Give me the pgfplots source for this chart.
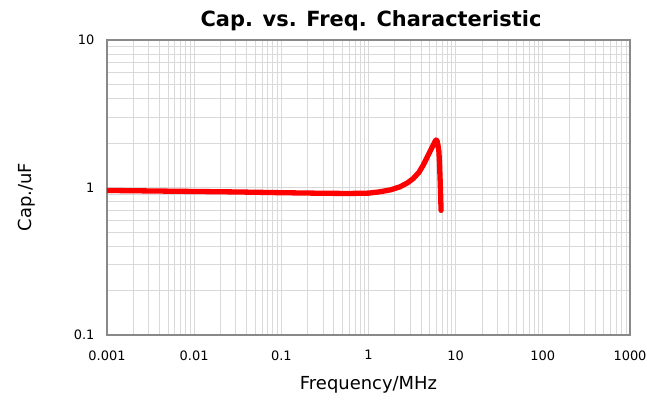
\documentclass[border=0pt]{standalone}
\usepackage{fontspec}
\setmainfont{DejaVu Sans}
\usepackage{pgfplots}
\pgfplotsset{compat=1.18}
\definecolor{framegray}{HTML}{898989}
\definecolor{gridgray}{HTML}{D9D9D9}
\begin{document}
\begin{tikzpicture}[x=1bp,y=1bp]
\useasboundingbox (-107,-70) rectangle (540,335);
\begin{axis}[
  at={(0,0)}, anchor=south west,
  scale only axis, width=523bp, height=295bp,
  xmode=log, ymode=log,
  xmin=0.001, xmax=1000, ymin=0.1, ymax=10,
  xtick={0.001,0.01,0.1,1,10,100,1000},
  xticklabels={0.001,0.01,0.1,1,10,100,1000},
  ytick={0.1,1,10},
  yticklabels={0.1,1,10},
  xmajorgrids, xminorgrids, ymajorgrids, yminorgrids,
  major grid style={gridgray, line width=0.8pt},
  minor grid style={gridgray, line width=0.8pt},
  axis line style={framegray, line width=1.6pt},
  major tick length=0pt, minor tick length=0pt,
  tick style={draw=none},
  /pgf/number format/assume math mode=true,
  ticklabel style={font=\fontsize{13}{15}\selectfont},
  xticklabel style={yshift=-12bp},
  yticklabel style={xshift=-9bp},
]
\addplot[red, line width=5.3bp, line join=round, line cap=round] coordinates {
(0.001,0.955) (0.003,0.948) (0.01,0.940) (0.03,0.933) (0.1,0.922)
(0.3,0.914) (0.6,0.911) (1.0,0.916) (1.35,0.935) (1.8,0.965)
(2.29,1.01) (2.8,1.075) (3.26,1.15) (3.8,1.27) (4.25,1.42)
(4.7,1.60) (5.06,1.75) (5.5,1.93) (5.77,2.04) (5.95,2.10)
(6.12,2.07) (6.28,1.92) (6.42,1.75) (6.52,1.48) (6.6,1.22)
(6.7,0.95) (6.8,0.70)
};
\end{axis}
\node[font=\bfseries\fontsize{21}{24}\selectfont] at (264,314) {Cap. vs. Freq. Characteristic};
\node[font=\fontsize{18}{21}\selectfont] at (261.5,-50) {Frequency/MHz};
\node[font=\fontsize{18}{21}\selectfont, rotate=90] at (-80,138) {Cap./uF};
\end{tikzpicture}
\end{document}
